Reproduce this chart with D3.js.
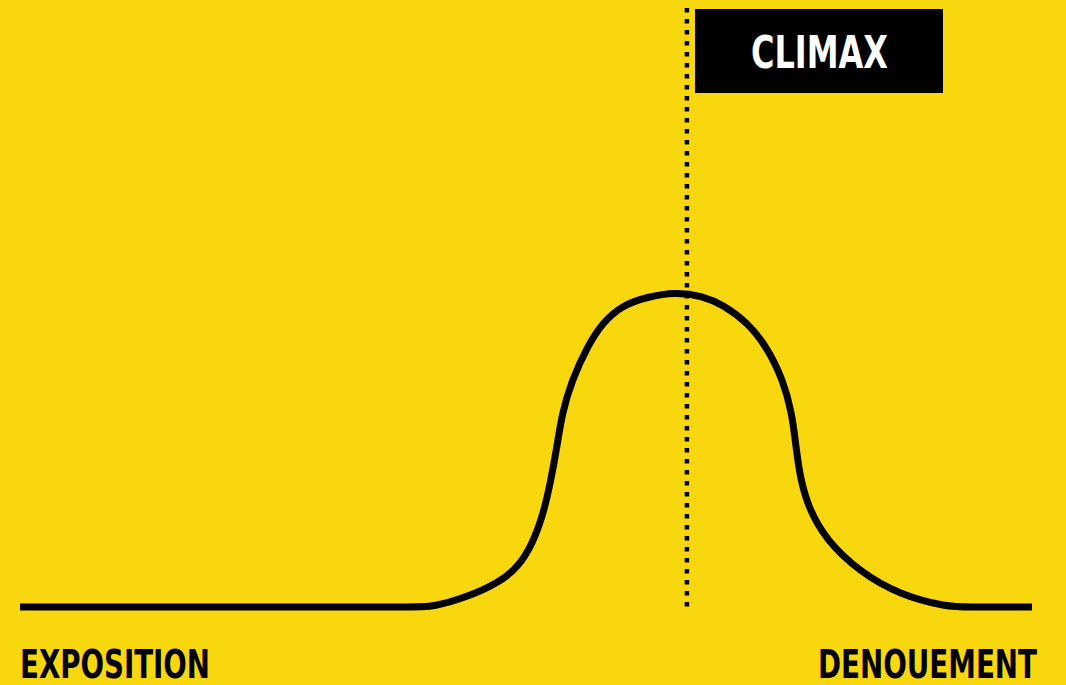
<!DOCTYPE html>
<html>
<head>
<meta charset="utf-8">
<script src="https://cdn.jsdelivr.net/npm/d3@7"></script>
<style>
html,body{margin:0;padding:0;background:#F9D70F;}
svg{display:block;}
</style>
</head>
<body>
<svg id="chart" width="1066" height="685"></svg>
<script>
// Story progress (0-100) and dramatic tension (0-100)
const progress = [0, 27.67, 39.03, 40.71, 43.97, 47.43, 49.21, 50.59, 51.68, 52.37, 53.06, 53.56, 54.55, 56.03, 57.61, 59.58, 61.96, 64.72, 67.49, 69.47, 71.84, 73.81, 75.40, 76.28, 76.68, 77.08, 77.87, 79.64, 83.00, 86.96, 91.70, 93.38, 100];
const tension  = [0, 0, 0, 0, 2.86, 7.94, 12.70, 19.68, 29.21, 38.73, 50.79, 61.59, 72.06, 82.54, 90.48, 95.87, 98.41, 100, 98.73, 95.87, 90.48, 82.54, 72.06, 61.59, 50.79, 41.27, 31.75, 21.27, 11.11, 3.81, 0, 0, 0];
const climaxAt = 65.9;
const labels = {start: "EXPOSITION", end: "DENOUEMENT", climax: "CLIMAX"};

const svg = d3.select("#chart");
const W = 1066, H = 685;
svg.append("rect").attr("width", W).attr("height", H).attr("fill", "#F9D70F");

const x = d3.scaleLinear().domain([0, 100]).range([20, 1032]);
const y = d3.scaleLinear().domain([0, 100]).range([607, 292]);

const pts = progress.map((p, i) => [p, tension[i]]);
const line = d3.line().x(d => x(d[0])).y(d => y(d[1])).curve(d3.curveBasis);

// dotted climax line
svg.append("line")
  .attr("x1", x(climaxAt)).attr("x2", x(climaxAt))
  .attr("y1", 8).attr("y2", 612)
  .attr("stroke", "#000").attr("stroke-width", 4.5)
  .attr("stroke-dasharray", "4.5,6.5");

svg.append("path").datum(pts)
  .attr("d", line)
  .attr("fill", "none")
  .attr("stroke", "#000")
  .attr("stroke-width", 7)
  .attr("stroke-linejoin", "round");

// climax box
svg.append("rect")
  .attr("x", 695).attr("y", 9).attr("width", 248).attr("height", 84)
  .attr("fill", "#000");

const font = "'Liberation Sans Narrow','DejaVu Sans Condensed','Arial Narrow',sans-serif";

svg.append("text")
  .attr("x", 751).attr("y", 68)
  .attr("font-family", font).attr("font-weight", "bold").attr("font-size", 45)
  .attr("fill", "#fff")
  .attr("textLength", 137).attr("lengthAdjust", "spacingAndGlyphs")
  .text(labels.climax);

svg.append("text")
  .attr("x", 20).attr("y", 678)
  .attr("font-family", font).attr("font-weight", "bold").attr("font-size", 39)
  .attr("fill", "#000")
  .attr("textLength", 190).attr("lengthAdjust", "spacingAndGlyphs")
  .text(labels.start);

svg.append("text")
  .attr("x", 818).attr("y", 678)
  .attr("font-family", font).attr("font-weight", "bold").attr("font-size", 39)
  .attr("fill", "#000")
  .attr("textLength", 219).attr("lengthAdjust", "spacingAndGlyphs")
  .text(labels.end);
</script>
</body>
</html>
